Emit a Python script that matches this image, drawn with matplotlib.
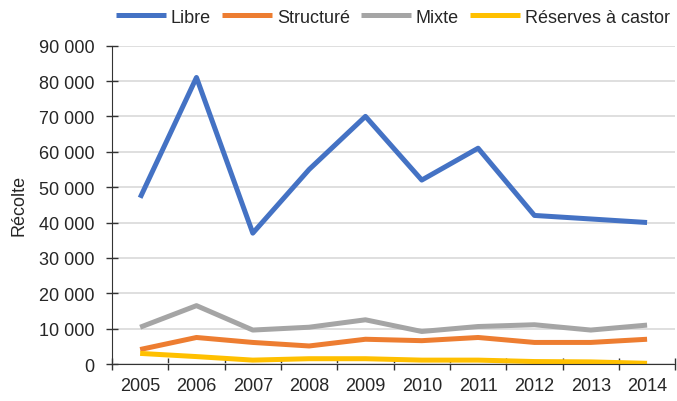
import numpy as np
import matplotlib
matplotlib.use("Agg")
import matplotlib.pyplot as plt
from matplotlib.ticker import FuncFormatter, FixedLocator

plt.rcParams['font.family'] = ['Liberation Sans', 'DejaVu Sans']

years = ['2005', '2006', '2007', '2008', '2009', '2010', '2011', '2012', '2013', '2014']
libre = [47000, 81000, 37000, 55000, 70000, 52000, 61000, 42000, 41000, 40000]
structure = [4100, 7500, 6100, 5100, 7000, 6600, 7500, 6100, 6100, 7000]
mixte = [10400, 16500, 9600, 10400, 12500, 9200, 10600, 11100, 9600, 11000]
reserves = [3000, 2100, 1100, 1500, 1500, 1100, 1100, 700, 600, 200]

names = ['Libre', 'Structuré', 'Mixte', 'Réserves à castor']
colors = ['#4472C4', '#ED7D31', '#A5A5A5', '#FFC000']

fig = plt.figure(figsize=(6.77, 4.02), dpi=100)
ax = fig.add_axes([0.1654, 0.092, 0.832, 0.792])

x = np.arange(len(years))
for vals, name, c in zip([libre, structure, mixte, reserves], names, colors):
    ax.plot(x, vals, color=c, lw=3.6, label=name, solid_capstyle='butt')

ax.set_xlim(-0.5, len(years) - 0.5)
ax.set_ylim(0, 90000)
ax.yaxis.set_major_locator(FixedLocator(np.arange(0, 90001, 10000)))
ax.yaxis.set_major_formatter(FuncFormatter(lambda v, p: f"{int(v):,}".replace(",", " ")))

# category axis: tick marks on boundaries, labels in the middle
ax.set_xticks(np.arange(-0.5, len(years), 1.0))
ax.set_xticklabels([])
ax.set_xticks(x, minor=True)
ax.set_xticklabels(years, minor=True)
ax.tick_params(axis='x', which='major', direction='inout', length=9, width=1, color='#333333')
ax.tick_params(axis='x', which='minor', length=0, pad=9, labelsize=13, labelcolor='#262626')
ax.tick_params(axis='y', direction='inout', length=9, width=1, color='#333333',
               labelsize=13, labelcolor='#262626', pad=8)

ax.grid(axis='y', color='#D9D9D9', lw=1.2)
ax.set_axisbelow(True)
for s in ['top', 'right']:
    ax.spines[s].set_visible(False)
ax.spines['left'].set_color('#333333')
ax.spines['bottom'].set_color('#333333')
ax.spines['bottom'].set_zorder(5)

ax.set_ylabel('Récolte', fontsize=13, color='#262626')
ax.yaxis.set_label_coords(-0.15, 0.5)

fig.legend(loc='center', bbox_to_anchor=(0.58, 0.955), ncol=4, frameon=False,
           fontsize=13, handlelength=2.8, handletextpad=0.25, columnspacing=0.6,
           labelcolor='#262626')

fig.savefig('out.png', dpi=100)
